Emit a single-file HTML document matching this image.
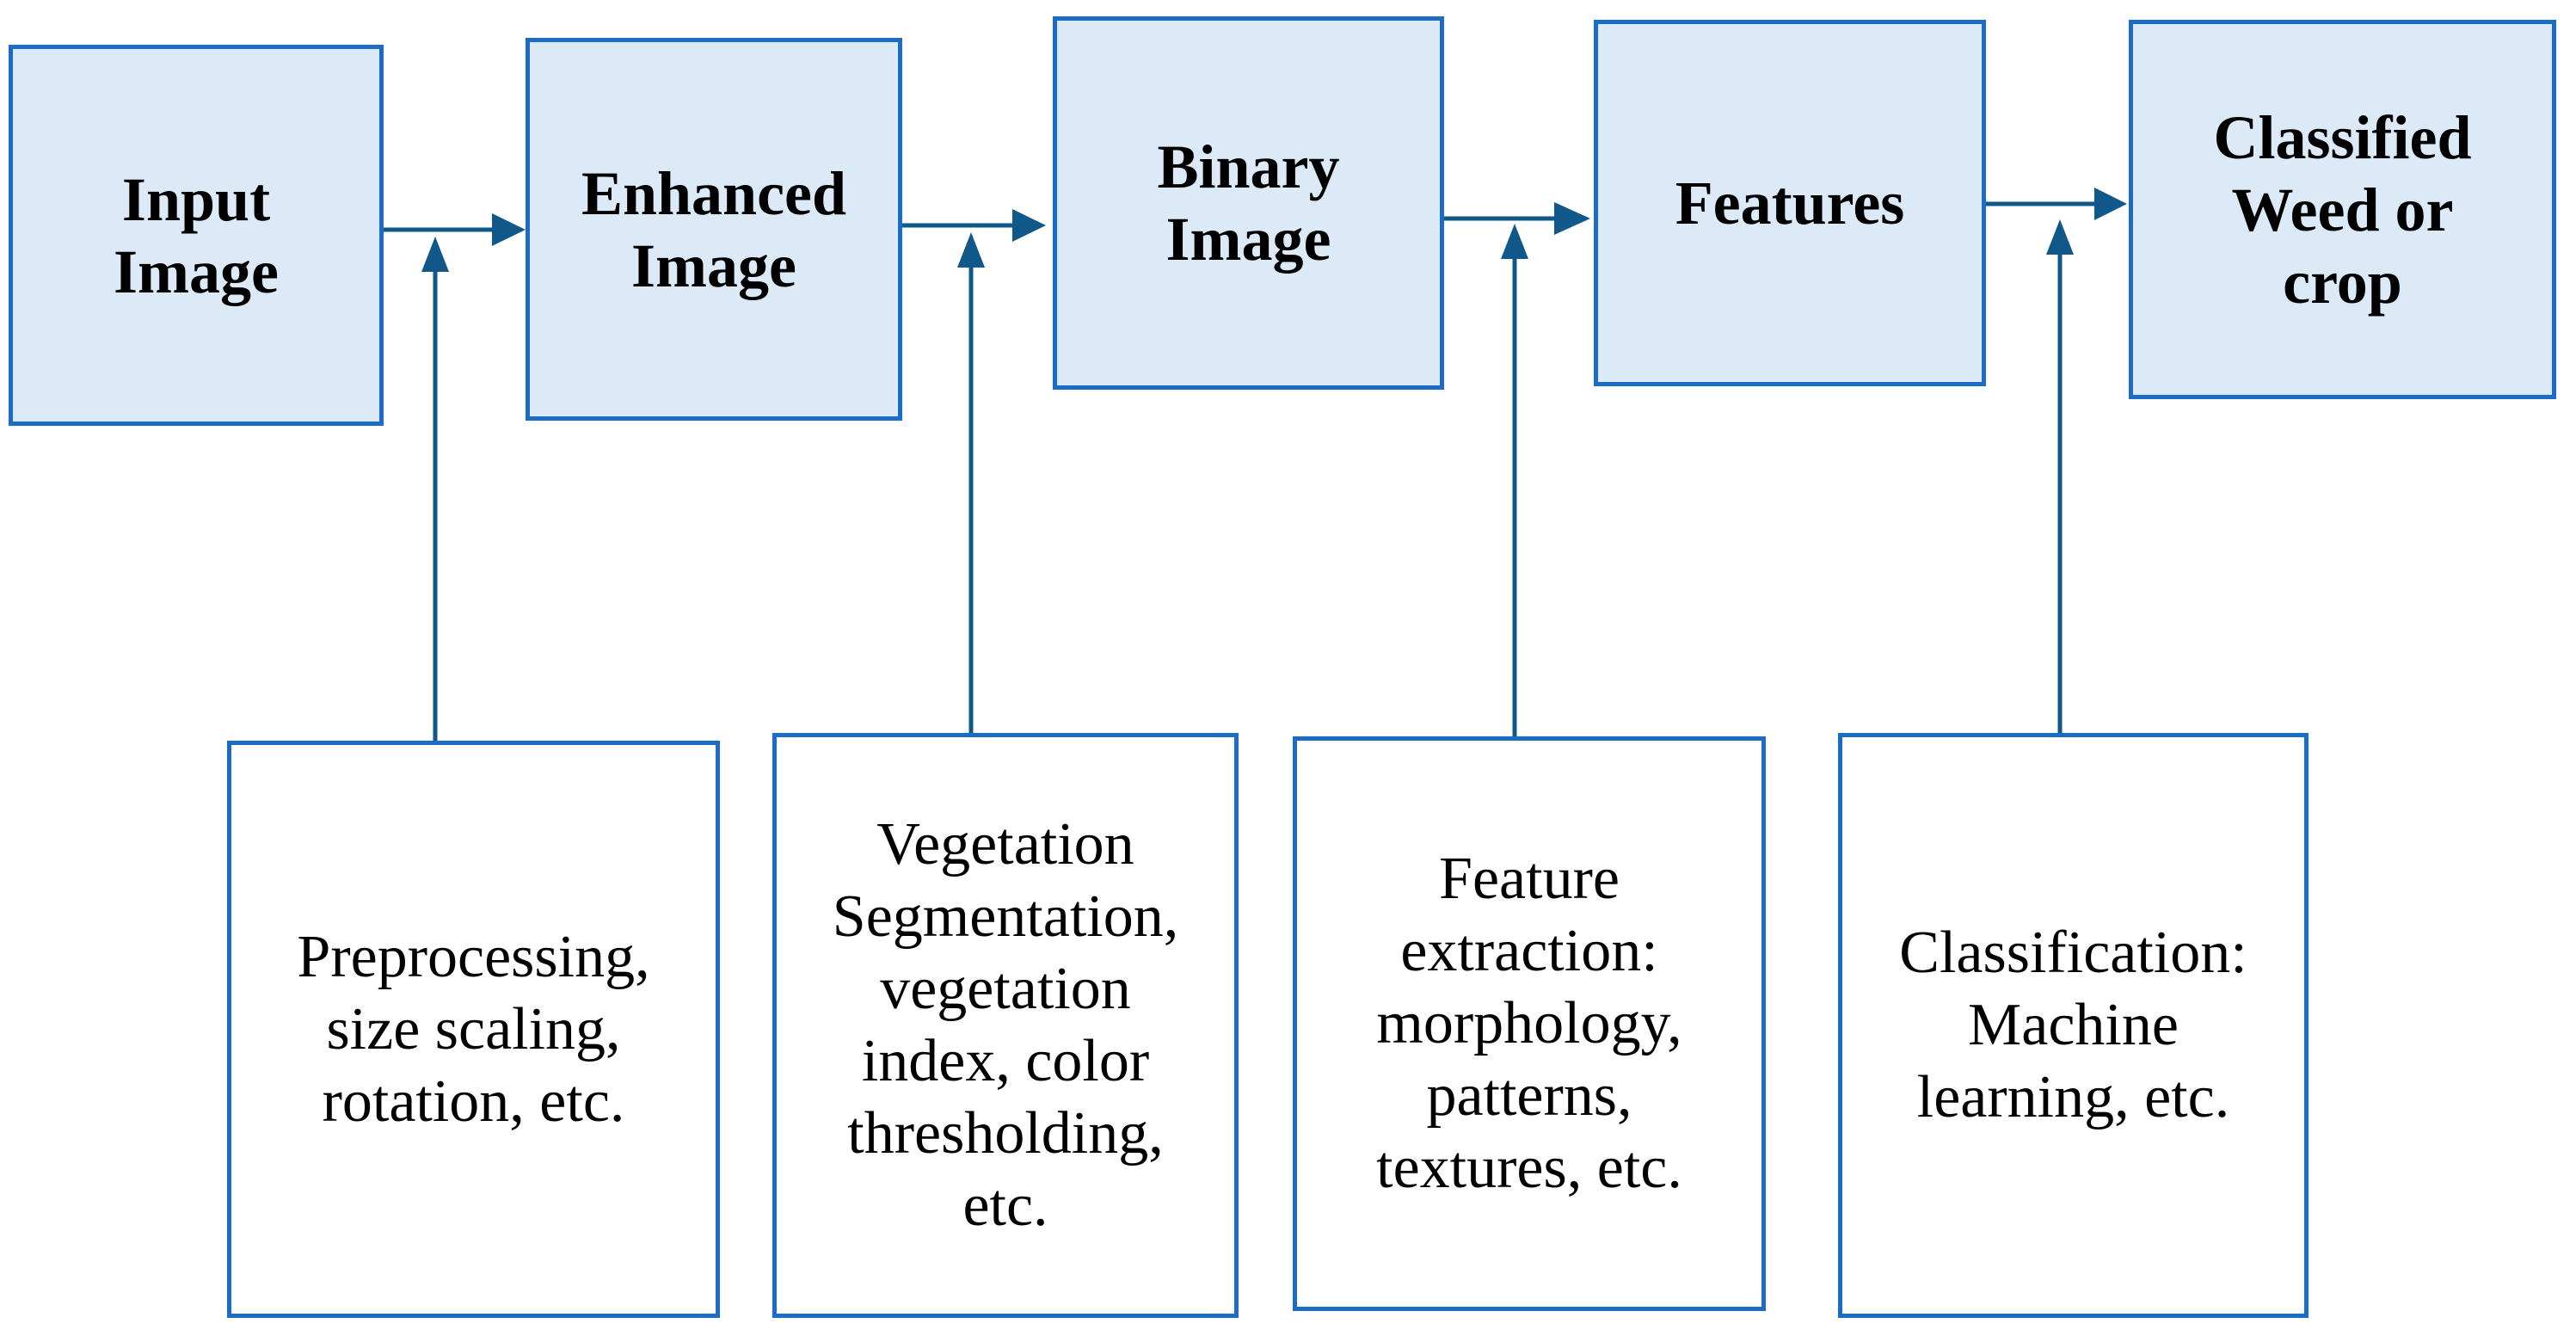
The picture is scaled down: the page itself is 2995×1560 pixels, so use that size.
<!DOCTYPE html>
<html><head><meta charset="utf-8"><style>
body{margin:0;width:2995px;height:1560px;background:#fff;position:relative;overflow:hidden;font-family:"Liberation Serif",serif}
.b{position:absolute;box-sizing:border-box;border:5px solid #1b6cc4;display:flex;align-items:center;justify-content:center;text-align:center;color:#000}
.t{background:#dceaf7;font-weight:bold;font-size:72px;line-height:84px}
.w{background:#fff;font-size:70px;line-height:84px}
svg{position:absolute;left:0;top:0}
</style></head><body>
<div class="b t" style="left:10px;top:52px;width:436px;height:443px">Input<br>Image</div>
<div class="b t" style="left:611px;top:44px;width:438px;height:445px">Enhanced<br>Image</div>
<div class="b t" style="left:1224px;top:19px;width:455px;height:434px">Binary<br>Image</div>
<div class="b t" style="left:1853px;top:23px;width:456px;height:426px">Features</div>
<div class="b t" style="left:2475px;top:23px;width:497px;height:441px">Classified<br>Weed or<br>crop</div>
<div class="b w" style="left:264px;top:861px;width:573px;height:671px">Preprocessing,<br>size scaling,<br>rotation, etc.</div>
<div class="b w" style="left:898px;top:852px;width:542px;height:680px">Vegetation<br>Segmentation,<br>vegetation<br>index, color<br>thresholding,<br>etc.</div>
<div class="b w" style="left:1503px;top:856px;width:550px;height:668px">Feature<br>extraction:<br>morphology,<br>patterns,<br>textures, etc.</div>
<div class="b w" style="left:2137px;top:852px;width:547px;height:680px">Classification:<br>Machine<br>learning, etc.</div>
<svg width="2995" height="1560">
<g stroke="#10588a" stroke-width="5" fill="none">
<line x1="446" y1="267" x2="580" y2="267"/>
<line x1="1049" y1="262" x2="1185" y2="262"/>
<line x1="1679" y1="254" x2="1815" y2="254"/>
<line x1="2309" y1="237" x2="2443" y2="237"/>
<line x1="506" y1="861" x2="506" y2="310"/>
<line x1="1129" y1="852" x2="1129" y2="305"/>
<line x1="1761" y1="856" x2="1761" y2="295"/>
<line x1="2395" y1="852" x2="2395" y2="290"/>
</g>
<g fill="#10588a">
<polygon points="572,248 611,267 572,286"/>
<polygon points="1177,243 1216,262 1177,281"/>
<polygon points="1807,235 1849,254 1807,273"/>
<polygon points="2435,218 2473,237 2435,256"/>
<polygon points="490,316 506,275 522,316"/>
<polygon points="1113,311 1129,270 1145,311"/>
<polygon points="1745,301 1761,260 1777,301"/>
<polygon points="2379,296 2395,255 2411,296"/>
</g>
</svg>
</body></html>
